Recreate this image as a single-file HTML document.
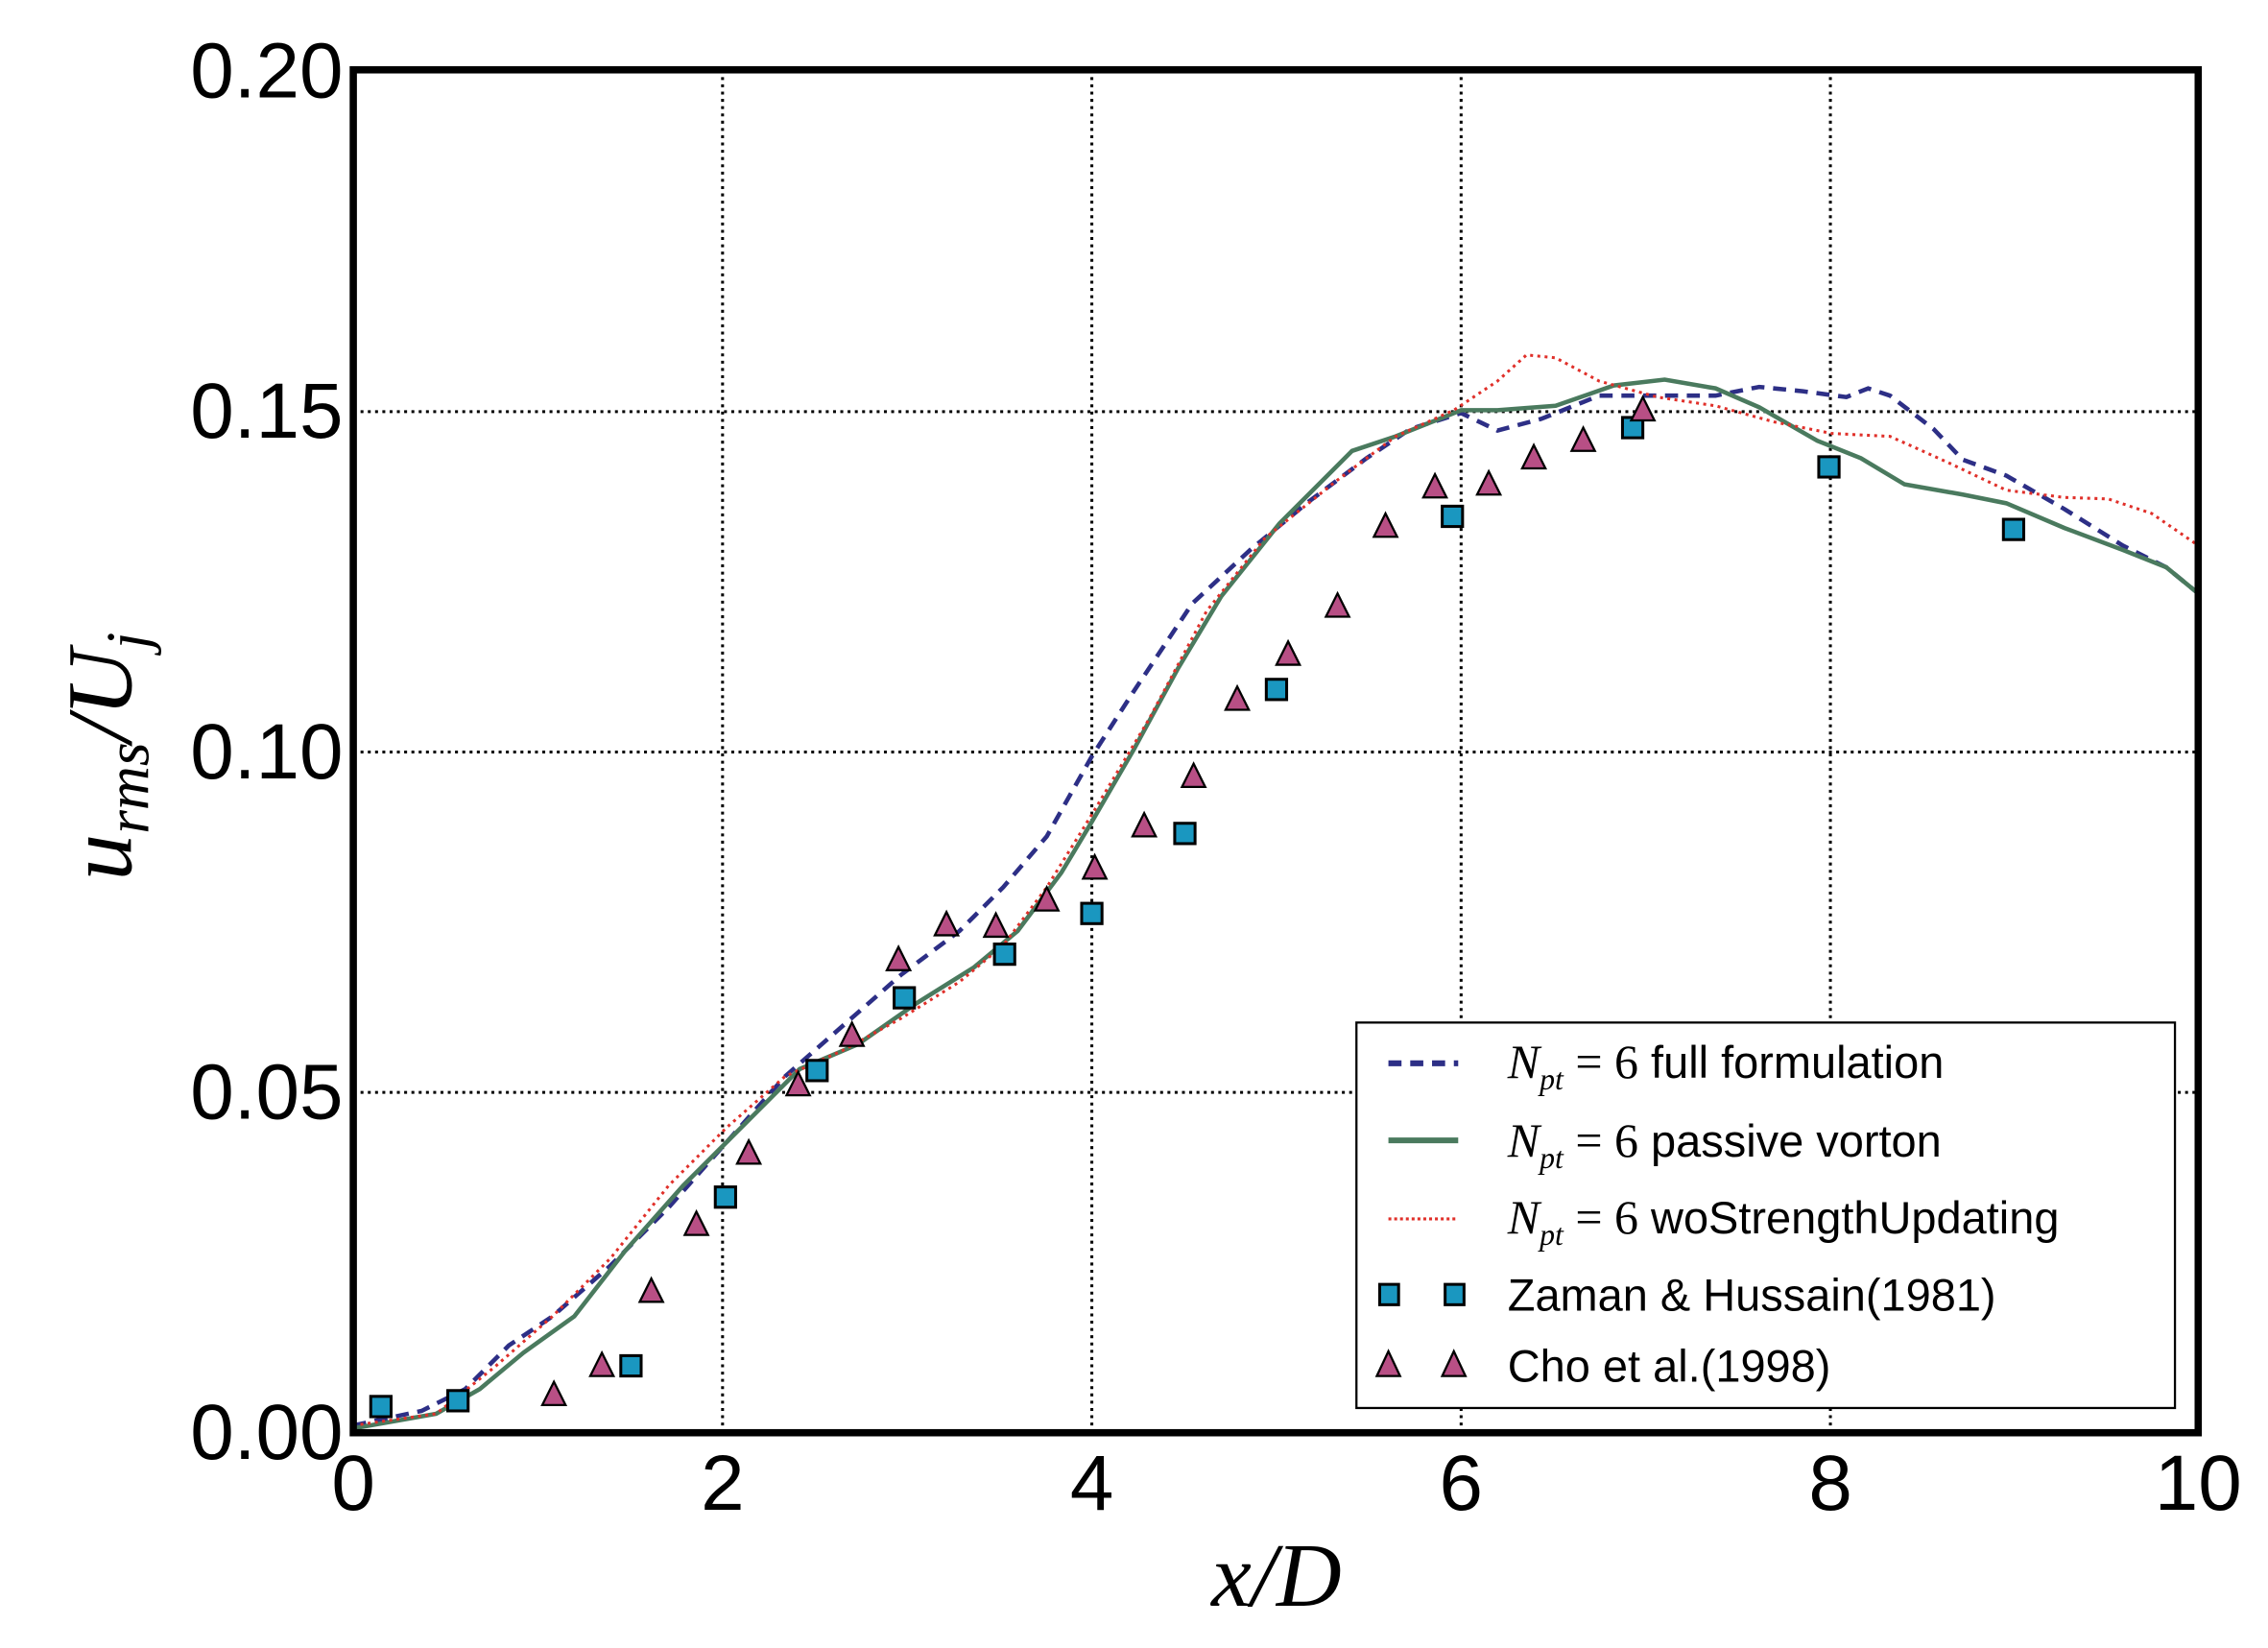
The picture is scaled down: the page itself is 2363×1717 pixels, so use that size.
<!DOCTYPE html>
<html><head><meta charset="utf-8"><style>html,body{margin:0;padding:0;background:#fff}svg{display:block}</style></head>
<body>
<svg width="2363" height="1717" viewBox="0 0 1560 1133" preserveAspectRatio="none" xmlns="http://www.w3.org/2000/svg">
<rect width="1560" height="1133" fill="#fff"/>
<g stroke="#000" stroke-width="2" stroke-dasharray="2,3" fill="none">
<line x1="497" y1="48" x2="497" y2="985"/><line x1="751" y1="48" x2="751" y2="985"/>
<line x1="1005" y1="48" x2="1005" y2="985"/><line x1="1259" y1="48" x2="1259" y2="985"/>
<line x1="243" y1="283" x2="1512" y2="283"/><line x1="243" y1="517" x2="1512" y2="517"/>
<line x1="243" y1="751" x2="1512" y2="751"/>
</g>
<polyline fill="none" stroke="#2d2f86" stroke-width="3" stroke-dasharray="9,6" points="243,980 290,970 320,955 350,925 380,905 420,870 460,830 500,785 540,740 580,705 620,670 660,640 690,610 720,575 751,520 780,475 820,415 860,378 900,345 940,315 970,295 1005,284 1030,296 1060,288 1100,272 1140,272 1180,272 1210,266 1240,269 1270,273 1285,267 1300,272 1330,295 1350,316 1380,327 1420,350 1460,375 1490,390 1512,408"/>
<polyline fill="none" stroke="#4a7a5e" stroke-width="3" points="243,982 300,972 330,955 360,930 395,905 430,860 470,815 510,775 550,735 590,718 630,690 670,665 700,640 730,600 751,565 780,515 810,460 840,410 880,360 930,310 960,300 1005,282 1030,282 1070,279 1110,265 1145,261 1180,267 1210,280 1250,303 1280,315 1310,333 1350,340 1380,346 1420,363 1460,378 1490,390 1512,408"/>
<polyline fill="none" stroke="#e0302a" stroke-width="2" stroke-dasharray="2,3" points="243,980 300,972 340,940 380,905 420,865 460,815 500,775 540,740 580,722 620,700 660,675 690,650 720,610 751,560 790,495 830,420 870,370 920,330 960,300 1000,282 1030,262 1050,244 1070,246 1100,262 1140,273 1180,279 1220,290 1260,298 1300,300 1340,318 1380,337 1420,342 1450,343 1480,353 1512,375"/>
<g fill="#1a97c0" stroke="#000" stroke-width="2">
<rect x="255" y="960" width="14" height="14"/><rect x="308" y="956" width="14" height="14"/><rect x="427" y="932" width="14" height="14"/><rect x="492" y="816" width="14" height="14"/><rect x="555" y="729" width="14" height="14"/><rect x="615" y="679" width="14" height="14"/><rect x="684" y="649" width="14" height="14"/><rect x="744" y="621" width="14" height="14"/><rect x="808" y="566" width="14" height="14"/><rect x="871" y="467" width="14" height="14"/><rect x="992" y="348" width="14" height="14"/><rect x="1116" y="287" width="14" height="14"/><rect x="1251" y="314" width="14" height="14"/><rect x="1378" y="357" width="14" height="14"/>
</g>
<g fill="#b84f85" stroke="#000" stroke-width="1.5">
<path d="M0,-9 L8,7 L-8,7 Z" transform="translate(381,959)"/>
<path d="M0,-9 L8,7 L-8,7 Z" transform="translate(414,939)"/><path d="M0,-9 L8,7 L-8,7 Z" transform="translate(448,888)"/><path d="M0,-9 L8,7 L-8,7 Z" transform="translate(479,842)"/><path d="M0,-9 L8,7 L-8,7 Z" transform="translate(515,793)"/><path d="M0,-9 L8,7 L-8,7 Z" transform="translate(549,746)"/><path d="M0,-9 L8,7 L-8,7 Z" transform="translate(586,712)"/><path d="M0,-9 L8,7 L-8,7 Z" transform="translate(618,660)"/><path d="M0,-9 L8,7 L-8,7 Z" transform="translate(651,636)"/><path d="M0,-9 L8,7 L-8,7 Z" transform="translate(685,637)"/><path d="M0,-9 L8,7 L-8,7 Z" transform="translate(720,619)"/><path d="M0,-9 L8,7 L-8,7 Z" transform="translate(753,597)"/><path d="M0,-9 L8,7 L-8,7 Z" transform="translate(787,568)"/><path d="M0,-9 L8,7 L-8,7 Z" transform="translate(821,534)"/><path d="M0,-9 L8,7 L-8,7 Z" transform="translate(851,481)"/><path d="M0,-9 L8,7 L-8,7 Z" transform="translate(886,450)"/><path d="M0,-9 L8,7 L-8,7 Z" transform="translate(920,417)"/><path d="M0,-9 L8,7 L-8,7 Z" transform="translate(953,362)"/><path d="M0,-9 L8,7 L-8,7 Z" transform="translate(987,335)"/><path d="M0,-9 L8,7 L-8,7 Z" transform="translate(1024,333)"/><path d="M0,-9 L8,7 L-8,7 Z" transform="translate(1055,315)"/><path d="M0,-9 L8,7 L-8,7 Z" transform="translate(1089,303)"/><path d="M0,-9 L8,7 L-8,7 Z" transform="translate(1130,282)"/>
</g>
<rect x="933" y="703" width="563" height="265" fill="#fff" stroke="#000" stroke-width="1.5"/>
<line x1="955" y1="731" x2="1003" y2="731" stroke="#2d2f86" stroke-width="4" stroke-dasharray="9,6"/>
<line x1="955" y1="784" x2="1003" y2="784" stroke="#4a7a5e" stroke-width="4"/>
<line x1="955" y1="838" x2="1003" y2="838" stroke="#e0302a" stroke-width="2" stroke-dasharray="2,2"/>
<rect x="949" y="883" width="13" height="14" fill="#1a97c0" stroke="#000" stroke-width="2"/>
<rect x="994" y="883" width="13" height="14" fill="#1a97c0" stroke="#000" stroke-width="2"/>
<path d="M955,929 L963,946 L947,946 Z M1000,929 L1008,946 L992,946 Z" fill="#b84f85" stroke="#000" stroke-width="1.5"/>
<g font-family="Liberation Sans, sans-serif" font-size="31" fill="#000">
<text x="1037" y="741"><tspan font-family="Liberation Serif, serif" font-style="italic" font-size="33">N</tspan><tspan font-family="Liberation Serif, serif" font-style="italic" font-size="21" dy="8">pt</tspan><tspan font-family="Liberation Serif, serif" font-size="33" dy="-8"> = 6</tspan> full formulation</text>
<text x="1037" y="795"><tspan font-family="Liberation Serif, serif" font-style="italic" font-size="33">N</tspan><tspan font-family="Liberation Serif, serif" font-style="italic" font-size="21" dy="8">pt</tspan><tspan font-family="Liberation Serif, serif" font-size="33" dy="-8"> = 6</tspan> passive vorton</text>
<text x="1037" y="848"><tspan font-family="Liberation Serif, serif" font-style="italic" font-size="33">N</tspan><tspan font-family="Liberation Serif, serif" font-style="italic" font-size="21" dy="8">pt</tspan><tspan font-family="Liberation Serif, serif" font-size="33" dy="-8"> = 6</tspan> woStrengthUpdating</text>
<text x="1037" y="901">Zaman &amp; Hussain(1981)</text>
<text x="1037" y="950">Cho et al.(1998)</text>
</g>
<rect x="243" y="48" width="1269" height="937" fill="none" stroke="#000" stroke-width="5"/>
<g font-family="Liberation Sans, sans-serif" font-size="54" fill="#000" text-anchor="end">
<text x="236" y="67">0.20</text><text x="236" y="301">0.15</text><text x="236" y="535">0.10</text><text x="236" y="769">0.05</text><text x="236" y="1003">0.00</text>
</g>
<g font-family="Liberation Sans, sans-serif" font-size="54" fill="#000" text-anchor="middle">
<text x="243" y="1038">0</text><text x="497" y="1038">2</text><text x="751" y="1038">4</text><text x="1005" y="1038">6</text><text x="1259" y="1038">8</text><text x="1512" y="1038">10</text>
</g>
<text x="878" y="1104" text-anchor="middle" font-family="Liberation Serif, serif" font-style="italic" font-size="62">x/D</text>
<text transform="translate(90,520) rotate(-90)" text-anchor="middle" font-family="Liberation Serif, serif" font-style="italic" font-size="64">u<tspan font-size="42" dy="12">rms</tspan><tspan dy="-12">/U</tspan><tspan font-size="42" dy="12">j</tspan></text>
</svg>
</body></html>
